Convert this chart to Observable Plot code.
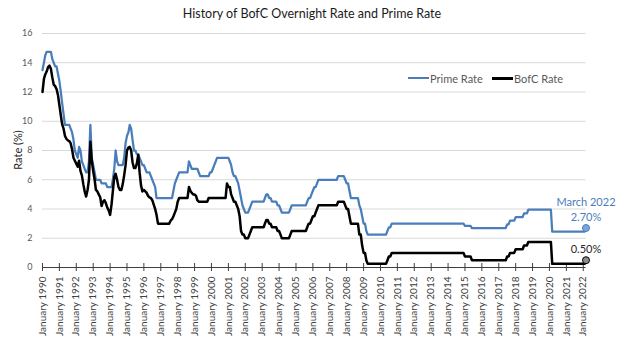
<!DOCTYPE html>
<html><head><meta charset="utf-8">
<script src="https://cdn.jsdelivr.net/npm/d3@7"></script>
<script src="https://cdn.jsdelivr.net/npm/@observablehq/plot@0.6"></script>
<style>
body{margin:0;background:#fff;}
#wrap{position:relative;width:624px;height:352px;font-family:Lato,"Open Sans",sans-serif;overflow:hidden;}
#title{position:absolute;left:0;top:5px;width:624px;text-align:center;font-size:12.5px;line-height:18px;color:#1a1a1a;}
#chart{position:absolute;left:0;top:24px;}
#ylab{position:absolute;left:17px;top:150px;transform:translate(-50%,-50%) rotate(-90deg);font-size:11px;color:#262626;white-space:nowrap;}
.leg{position:absolute;top:70px;height:16px;display:flex;align-items:center;font-size:11px;color:#595959;white-space:nowrap;}
.leg span.sw{display:inline-block;width:21px;margin-right:1px;}
</style></head>
<body>
<div id="wrap">
  <div id="title">History of BofC Overnight Rate and Prime Rate</div>
  <div id="chart"></div>
  <div id="ylab">Rate (%)</div>
  <div class="leg" style="left:408px"><span class="sw" style="height:2.5px;background:#4a7ebb"></span>Prime Rate</div>
  <div class="leg" style="left:492px"><span class="sw" style="height:3px;background:#000"></span>BofC Rate</div>
</div>
<script>
const startYear = 1990;
const seriesNames = ["Prime Rate", "BofC Rate"];
const endLabel = "March 2022";
const tickYears = [1990,1991,1992,1993,1994,1995,1996,1997,1998,1999,2000,2001,2002,2003,2004,2005,2006,2007,2008,2009,2010,2011,2012,2013,2014,2015,2016,2017,2018,2019,2020,2021,2022];
const yTicks = [0,2,4,6,8,10,12,14,16];

// Monthly values, January 1990 .. March 2022
const prime = [
  13.5,14.0,14.5,14.75,14.75,14.75,14.75,14.25,14.0,13.75,13.75,13.25, // 1990
  12.75,12.0,11.25,10.5,9.75,9.75,9.75,9.75,9.5,9.25,8.75,8.0,       // 1991
  7.75,7.5,8.25,8.0,7.25,7.0,6.75,6.5,6.5,7.25,9.75,7.5,             // 1992
  7.0,6.5,6.0,6.0,6.0,6.0,5.75,5.75,5.75,5.75,5.5,5.5,               // 1993
  5.5,5.5,6.0,6.75,8.0,7.25,7.0,7.0,7.0,7.0,7.5,8.5,                 // 1994
  9.0,9.25,9.75,9.5,8.75,8.0,8.0,7.75,7.75,7.5,7.25,7.0,             // 1995
  7.0,6.75,6.5,6.5,6.5,6.25,6.0,5.75,5.5,4.75,4.75,4.75,             // 1996
  4.75,4.75,4.75,4.75,4.75,4.75,4.75,4.75,4.75,5.25,5.75,6.0,        // 1997
  6.25,6.5,6.5,6.5,6.5,6.5,6.5,6.5,7.25,7.0,6.75,6.75,               // 1998
  6.75,6.75,6.75,6.5,6.25,6.25,6.25,6.25,6.25,6.25,6.25,6.5,         // 1999
  6.5,6.75,7.0,7.25,7.5,7.5,7.5,7.5,7.5,7.5,7.5,7.5,                 // 2000
  7.5,7.25,7.0,6.5,6.25,6.25,6.0,5.75,5.25,4.75,4.25,4.0,            // 2001
  3.75,3.75,3.75,4.0,4.25,4.5,4.5,4.5,4.5,4.5,4.5,4.5,               // 2002
  4.5,4.5,4.75,5.0,5.0,4.75,4.75,4.5,4.5,4.5,4.5,4.25,               // 2003
  4.25,4.0,3.75,3.75,3.75,3.75,3.75,3.75,4.0,4.25,4.25,4.25,         // 2004
  4.25,4.25,4.25,4.25,4.25,4.25,4.25,4.25,4.5,4.75,4.75,5.0,         // 2005
  5.25,5.5,5.5,5.75,6.0,6.0,6.0,6.0,6.0,6.0,6.0,6.0,                 // 2006
  6.0,6.0,6.0,6.0,6.0,6.0,6.25,6.25,6.25,6.25,6.25,6.0,              // 2007
  5.75,5.75,5.25,4.75,4.75,4.75,4.75,4.75,4.75,4.25,4.0,3.5,         // 2008
  3.0,3.0,2.5,2.25,2.25,2.25,2.25,2.25,2.25,2.25,2.25,2.25,          // 2009
  2.25,2.25,2.25,2.25,2.25,2.5,2.75,2.75,3.0,3.0,3.0,3.0,            // 2010
  3.0,3.0,3.0,3.0,3.0,3.0,3.0,3.0,3.0,3.0,3.0,3.0,                   // 2011
  3.0,3.0,3.0,3.0,3.0,3.0,3.0,3.0,3.0,3.0,3.0,3.0,                   // 2012
  3.0,3.0,3.0,3.0,3.0,3.0,3.0,3.0,3.0,3.0,3.0,3.0,                   // 2013
  3.0,3.0,3.0,3.0,3.0,3.0,3.0,3.0,3.0,3.0,3.0,3.0,                   // 2014
  2.85,2.85,2.85,2.85,2.85,2.7,2.7,2.7,2.7,2.7,2.7,2.7,              // 2015
  2.7,2.7,2.7,2.7,2.7,2.7,2.7,2.7,2.7,2.7,2.7,2.7,                   // 2016
  2.7,2.7,2.7,2.7,2.7,2.7,2.95,2.95,3.2,3.2,3.2,3.2,                 // 2017
  3.45,3.45,3.45,3.45,3.45,3.45,3.7,3.7,3.7,3.95,3.95,3.95,          // 2018
  3.95,3.95,3.95,3.95,3.95,3.95,3.95,3.95,3.95,3.95,3.95,3.95,       // 2019
  3.95,3.95,2.45,2.45,2.45,2.45,2.45,2.45,2.45,2.45,2.45,2.45,       // 2020
  2.45,2.45,2.45,2.45,2.45,2.45,2.45,2.45,2.45,2.45,2.45,2.45,       // 2021
  2.45,2.45,2.7                                                      // 2022
];
const bofc = [
  12.0,12.9,13.2,13.4,13.7,13.8,13.6,13.0,12.5,12.4,12.2,11.8,       // 1990
  11.1,10.4,9.8,9.5,9.0,8.8,8.7,8.65,8.5,8.1,7.5,7.3,                // 1991
  7.1,6.9,7.3,6.6,6.3,5.7,5.2,4.85,5.3,6.0,8.6,7.3,                  // 1992
  6.6,6.0,5.3,5.2,5.0,4.8,4.2,4.5,4.6,4.4,4.1,3.9,                   // 1993
  3.6,4.3,5.2,6.2,6.4,6.0,5.5,5.3,5.3,5.7,6.3,7.0,                   // 1994
  8.0,8.2,8.25,8.0,7.2,6.8,6.8,7.1,7.7,6.5,5.6,5.2,                  // 1995
  5.3,5.2,5.1,4.9,4.8,4.75,4.6,4.3,4.0,3.6,3.0,3.0,                  // 1996
  3.0,3.0,3.0,3.0,3.0,3.0,3.0,3.2,3.3,3.5,3.75,4.0,                  // 1997
  4.5,4.75,4.75,4.75,4.75,4.75,4.75,4.75,5.5,5.25,5.1,5.0,           // 1998
  5.0,4.9,4.6,4.5,4.5,4.5,4.5,4.5,4.5,4.5,4.75,4.75,                 // 1999
  4.75,4.75,4.75,4.75,4.75,4.75,4.75,4.75,4.75,4.75,4.75,5.75,       // 2000
  5.5,5.5,5.0,4.75,4.5,4.5,4.25,4.0,3.5,2.5,2.25,2.25,               // 2001
  2.0,2.0,2.0,2.25,2.5,2.75,2.75,2.75,2.75,2.75,2.75,2.75,           // 2002
  2.75,2.75,3.0,3.25,3.25,3.0,3.0,2.75,2.75,2.75,2.75,2.5,           // 2003
  2.5,2.25,2.0,2.0,2.0,2.0,2.0,2.0,2.25,2.5,2.5,2.5,                 // 2004
  2.5,2.5,2.5,2.5,2.5,2.5,2.5,2.5,2.75,3.0,3.0,3.25,                 // 2005
  3.5,3.5,3.75,4.0,4.25,4.25,4.25,4.25,4.25,4.25,4.25,4.25,          // 2006
  4.25,4.25,4.25,4.25,4.25,4.25,4.5,4.5,4.5,4.5,4.5,4.25,            // 2007
  4.0,4.0,3.5,3.0,3.0,3.0,3.0,3.0,3.0,2.25,2.25,1.5,                 // 2008
  1.0,1.0,0.5,0.25,0.25,0.25,0.25,0.25,0.25,0.25,0.25,0.25,          // 2009
  0.25,0.25,0.25,0.25,0.25,0.5,0.75,0.75,1.0,1.0,1.0,1.0,            // 2010
  1.0,1.0,1.0,1.0,1.0,1.0,1.0,1.0,1.0,1.0,1.0,1.0,                   // 2011
  1.0,1.0,1.0,1.0,1.0,1.0,1.0,1.0,1.0,1.0,1.0,1.0,                   // 2012
  1.0,1.0,1.0,1.0,1.0,1.0,1.0,1.0,1.0,1.0,1.0,1.0,                   // 2013
  1.0,1.0,1.0,1.0,1.0,1.0,1.0,1.0,1.0,1.0,1.0,1.0,                   // 2014
  0.75,0.75,0.75,0.75,0.75,0.5,0.5,0.5,0.5,0.5,0.5,0.5,              // 2015
  0.5,0.5,0.5,0.5,0.5,0.5,0.5,0.5,0.5,0.5,0.5,0.5,                   // 2016
  0.5,0.5,0.5,0.5,0.5,0.5,0.75,0.75,1.0,1.0,1.0,1.0,                 // 2017
  1.25,1.25,1.25,1.25,1.25,1.25,1.5,1.5,1.5,1.75,1.75,1.75,          // 2018
  1.75,1.75,1.75,1.75,1.75,1.75,1.75,1.75,1.75,1.75,1.75,1.75,       // 2019
  1.75,1.75,0.25,0.25,0.25,0.25,0.25,0.25,0.25,0.25,0.25,0.25,       // 2020
  0.25,0.25,0.25,0.25,0.25,0.25,0.25,0.25,0.25,0.25,0.25,0.25,       // 2021
  0.25,0.25,0.5                                                      // 2022
];

const monthDate = (i) => new Date(Date.UTC(startYear, i, 1));
const primeData = prime.map((v, i) => ({date: monthDate(i), v, s: seriesNames[0]}));
const bofcData = bofc.map((v, i) => ({date: monthDate(i), v, s: seriesNames[1]}));
const lastPrime = primeData[primeData.length - 1];
const lastBofc = bofcData[bofcData.length - 1];
const tickDates = tickYears.map(y => new Date(Date.UTC(y, 0, 1)));
const pct = d3.format(".2f");
const BLUE = "#4a7ebb";

const chart = Plot.plot({
  width: 624,
  height: 328,
  marginLeft: 42,
  marginRight: 38.5,
  marginTop: 9,
  marginBottom: 85,
  style: {fontFamily: "Lato, 'Open Sans', sans-serif", background: "#fff", overflow: "visible"},
  x: {type: "utc", domain: [primeData[0].date, lastPrime.date]},
  y: {domain: [0, 16]},
  marks: [
    Plot.gridY(yTicks.filter(t => t > 0), {stroke: "#d9d9d9", strokeOpacity: 1, strokeWidth: 1}),
    Plot.axisY({ticks: yTicks, tickSize: 0, tickPadding: 10, fontSize: 9, color: "#595959", label: null}),
    Plot.ruleY([0], {stroke: "#404040", strokeWidth: 1}),
    Plot.ruleX(tickDates, {x: d => d, y1: 0, y2: 0, insetTop: -4, insetBottom: -4, stroke: "#404040", strokeWidth: 1}),
    Plot.axisX({ticks: tickDates, tickFormat: d => "January " + d.getUTCFullYear(), tickRotate: -90, tickSize: 0, tickPadding: 9, fontSize: 10, color: "#404040", label: null}),
    Plot.line(primeData, {x: "date", y: "v", stroke: BLUE, strokeWidth: 2.25}),
    Plot.line(bofcData, {x: "date", y: "v", stroke: "#000", strokeWidth: 2.5}),
    Plot.dot([lastPrime], {x: "date", y: "v", r: 3.5, fill: "#7aa6dc", stroke: BLUE, strokeWidth: 1}),
    Plot.dot([lastBofc], {x: "date", y: "v", r: 3.5, fill: "#8c8c8c", stroke: "#000", strokeWidth: 1}),
    Plot.text([lastPrime], {x: "date", y: "v", text: () => endLabel, dy: -26, fill: BLUE, fontSize: 11}),
    Plot.text([lastPrime], {x: "date", y: "v", text: d => pct(d.v) + "%", dy: -11, fill: BLUE, fontSize: 11}),
    Plot.text([lastBofc], {x: "date", y: "v", text: d => pct(d.v) + "%", dy: -11, fill: "#262626", fontSize: 11})
  ]
});
document.getElementById("chart").appendChild(chart);
</script>
</body></html>
